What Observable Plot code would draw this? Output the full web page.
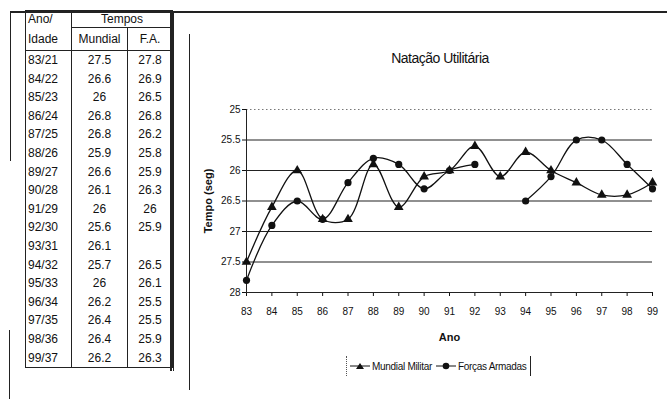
<!DOCTYPE html>
<html>
<head>
<meta charset="utf-8">
<script src="https://cdn.jsdelivr.net/npm/d3@7"></script>
<script src="https://cdn.jsdelivr.net/npm/@observablehq/plot@0.6"></script>
<style>
  html, body { margin: 0; padding: 0; background: #fff; }
  body { width: 667px; height: 399px; position: relative; overflow: hidden;
         font-family: "Liberation Sans", Arial, sans-serif; color: #111; }
  .ln { position: absolute; background: #222; }
  table { position: absolute; left: 25px; top: 10px; border-collapse: collapse; font-size: 12px; }
  td { padding: 0; text-align: center; height: 18.6px; line-height: 18.6px; }
  #chart { position: absolute; left: 188px; top: 95px; }
  #title { position: absolute; left: 340px; width: 200px; top: 50px; text-align: center; font-size: 14px; letter-spacing: -0.5px; }
  #legend { position: absolute; left: 346px; top: 356px; height: 20px; border-left: 1px dotted #555; border-right: 1px solid #222;
            font-size: 10px; letter-spacing: -0.3px; display: flex; align-items: center; padding: 0 3px; gap: 4px; }
  #legend span { display: inline-flex; align-items: center; gap: 2px; }
</style>
</head>
<body>
<div class="ln" style="left:10px; top:11px; width:657px; height:1.5px;"></div>
<div class="ln" style="left:10px; top:11px; width:1px; height:150px;"></div>
<div class="ln" style="left:9px; top:330px; width:1px; height:69px;"></div>
<div class="ln" style="left:170px; top:11px; width:1.5px; height:360px;"></div>
<div class="ln" style="left:173px; top:11px; width:1px; height:360px;"></div>
<div class="ln" style="left:189px; top:34px; width:1px; height:356px;"></div>
<div id="tbl"></div>
<div id="title">Natação Utilitária</div>
<div id="chart"></div>
<div id="legend"></div>
<script>
const years = [83, 84, 85, 86, 87, 88, 89, 90, 91, 92, 93, 94, 95, 96, 97, 98, 99];
const anoIdade = ["83/21","84/22","85/23","86/24","87/25","88/26","89/27","90/28","91/29","92/30","93/31","94/32","95/33","96/34","97/35","98/36","99/37"];
const mundial = [27.5, 26.6, 26, 26.8, 26.8, 25.9, 26.6, 26.1, 26, 25.6, 26.1, 25.7, 26, 26.2, 26.4, 26.4, 26.2];
const fa = [27.8, 26.9, 26.5, 26.8, 26.2, 25.8, 25.9, 26.3, 26, 25.9, null, 26.5, 26.1, 25.5, 25.5, 25.9, 26.3];
const yTicks = [25, 25.5, 26, 26.5, 27, 27.5, 28];
const seriesNames = ["Mundial Militar", "Forças Armadas"];

// Table
const B = "1px solid #222";
let html = `<table>
<tr><td style="width:43px;border-left:${B};border-top:${B};height:16px;line-height:16px;text-align:left;padding-left:2px">Ano/</td>
<td colspan="2" style="border-left:${B};border-top:${B};border-right:${B};border-bottom:${B};height:16px;line-height:16px">Tempos</td></tr>
<tr><td style="border-left:${B};border-bottom:${B};height:22px;line-height:22px;text-align:left;padding-left:2px">Idade</td>
<td style="width:55px;border-left:${B};border-bottom:${B};height:22px;line-height:22px">Mundial</td>
<td style="width:44px;border-left:${B};border-right:${B};border-bottom:${B};height:22px;line-height:22px">F.A.</td></tr>`;
anoIdade.forEach((a, i) => {
  const last = i === anoIdade.length - 1 ? `border-bottom:${B};` : "";
  html += `<tr><td style="border-left:${B};${last}text-align:left;padding-left:2px">${a}</td>
  <td style="border-left:${B};${last}">${mundial[i] ?? ""}</td>
  <td style="border-left:${B};border-right:${B};${last}">${fa[i] ?? ""}</td></tr>`;
});
html += `</table>`;
document.getElementById("tbl").innerHTML = html;

// Chart
const data = [];
years.forEach((y, i) => {
  data.push({year: y, v: mundial[i], s: seriesNames[0]});
  data.push({year: y, v: fa[i], s: seriesNames[1]});
});
const m = data.filter(d => d.s === seriesNames[0]);
const f = data.filter(d => d.s === seriesNames[1]);

const chart = Plot.plot({
  width: 479, height: 255,
  marginLeft: 58, marginRight: 15, marginTop: 14, marginBottom: 58,
  style: {fontFamily: '"Liberation Sans", Arial, sans-serif', fontSize: "10px", color: "#111", background: "transparent"},
  x: {domain: [83, 99], ticks: years, tickFormat: d => String(d), label: "Ano", labelAnchor: "center", labelOffset: 48, tickSize: 4, tickPadding: 11, labelArrow: "none"},
  y: {domain: [25, 28], reverse: true, ticks: yTicks, tickFormat: d => String(d), label: "Tempo (seg)", labelAnchor: "center", labelOffset: 42, tickSize: 4, tickPadding: 2, labelArrow: "none"},
  marks: [
    Plot.ruleY([25], {stroke: "#777", strokeDasharray: "1.5,2.5"}),
    Plot.ruleY(yTicks.filter(t => t > 25 && t < 28), {stroke: "#222", strokeWidth: 1.2}),
    Plot.ruleY([28], {stroke: "#222"}),
    Plot.ruleX([83], {stroke: "#222"}),
    Plot.line(m, {x: "year", y: "v", curve: "catmull-rom", stroke: "#111", strokeWidth: 1.3}),
    Plot.line(f, {x: "year", y: "v", curve: "catmull-rom", stroke: "#111", strokeWidth: 1.3}),
    Plot.dot(m, {x: "year", y: "v", symbol: "triangle", fill: "#111", r: 3.6}),
    Plot.dot(f.filter(d => d.v != null), {x: "year", y: "v", symbol: "circle", fill: "#111", r: 3.6})
  ]
});
chart.querySelectorAll("[aria-label='y-axis label'] text, [aria-label='x-axis label'] text").forEach(t => {
  t.style.fontSize = "11px"; t.style.fontWeight = "bold";
});
document.getElementById("chart").appendChild(chart);

// Legend
function sw(sym) {
  const shape = sym === "triangle"
    ? `<path d="M10,2 L14,8 L6,8 Z" fill="#111"/>`
    : `<circle cx="10" cy="5" r="3.3" fill="#111"/>`;
  return `<svg width="20" height="10"><line x1="0" y1="5" x2="20" y2="5" stroke="#111" stroke-width="1"/>${shape}</svg>`;
}
document.getElementById("legend").innerHTML =
  `<span>${sw("triangle")}${seriesNames[0]}</span><span>${sw("circle")}${seriesNames[1]}</span>`;
</script>
</body>
</html>
